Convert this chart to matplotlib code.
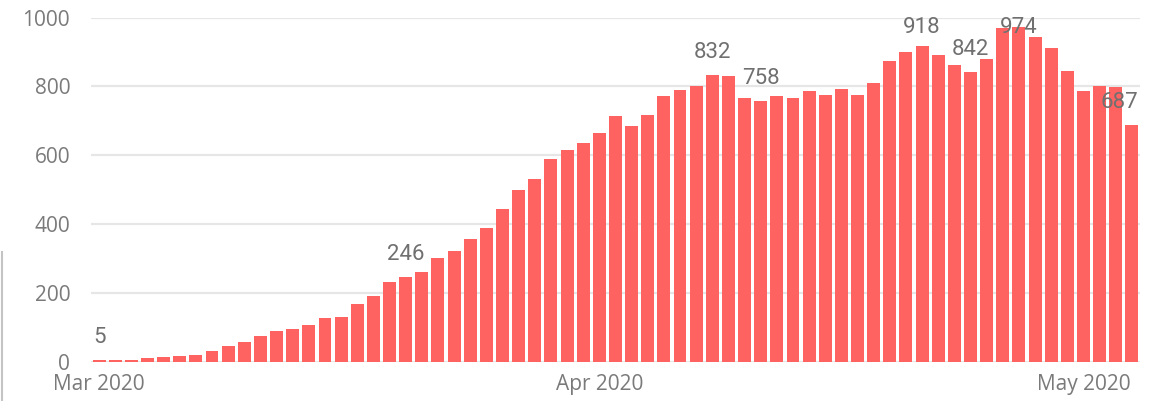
import matplotlib
matplotlib.use("Agg")
import matplotlib.pyplot as plt
from matplotlib.lines import Line2D
import numpy as np
import pandas as pd

# daily values, 1 Mar 2020 .. 4 May 2020
values = [5, 5, 6, 12, 15, 17, 20, 32, 47, 58,
          76, 90, 96, 108, 128, 131, 169, 192, 233, 246,
          262, 300, 323, 358, 390, 445, 498, 530, 588, 614,
          637, 666, 713, 684, 716, 771, 789, 800, 832, 829,
          765, 758, 771, 765, 786, 776, 794, 776, 809, 875,
          901, 918, 890, 863, 842, 880, 971, 974, 945, 912,
          846, 788, 802, 797, 687]
start_date = "2020-03-01"
labelled = [0, 19, 38, 41, 51, 54, 57, 64]
y_ticks = [0, 200, 400, 600, 800, 1000]

bar_color = "#ff6361"
tick_color = "#7a7a7a"
label_color = "#707070"

dates = pd.date_range(start_date, periods=len(values))
x = np.arange(len(values))

fig = plt.figure(figsize=(11.65, 4.01), dpi=100)
ax = fig.add_axes([0.0781, 0.098, 0.9004, 0.858])

ax.bar(x, values, width=0.8, color=bar_color, zorder=2)

ax.set_xlim(-0.5, len(values) - 0.5)
ax.set_ylim(0, 1000)
ax.set_yticks(y_ticks)
ax.set_yticklabels([str(t) for t in y_ticks])

month_idx = [i for i, d in enumerate(dates) if d.day == 1]
ax.set_xticks(month_idx)
ax.set_xticklabels([dates[i].strftime("%b %Y") for i in month_idx])

for lab in ax.get_xticklabels() + ax.get_yticklabels():
    lab.set_fontfamily("Open Sans")
    lab.set_fontsize(15)
    lab.set_color(tick_color)
ax.tick_params(axis="x", length=0, pad=9)
ax.tick_params(axis="y", length=0, pad=15)

ax.yaxis.grid(True, color="#e6e6e6", linewidth=1.6, zorder=0)
ax.set_axisbelow(True)
for s in ax.spines.values():
    s.set_visible(False)

# value labels over selected bars
for i in labelled:
    v = values[i]
    y = min(v + 50, 956)
    if i == len(values) - 1:
        xpos, ha = i + 0.4, "right"
    else:
        xpos, ha = i, "center"
    ax.text(xpos, y, str(v), ha=ha, va="baseline", fontsize=16,
            fontfamily="Roboto", fontweight="normal", color=label_color,
            zorder=3)

# edge of the card on the left
fig.add_artist(Line2D([1.5 / 1165, 1.5 / 1165], [0, 149 / 401],
                      transform=fig.transFigure, color="#c4c4c4", lw=1.5))

fig.savefig("out.png", dpi=100)
